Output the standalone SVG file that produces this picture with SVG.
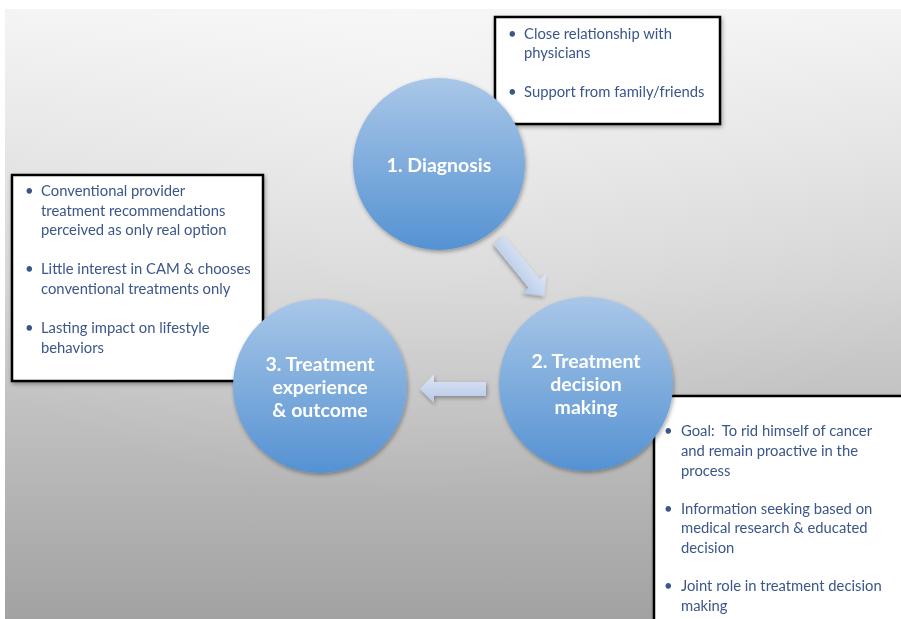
<svg xmlns="http://www.w3.org/2000/svg" width="901" height="619" viewBox="0 0 901 619">
<defs>
<linearGradient id="bg" x1="0" y1="0" x2="0" y2="1">
<stop offset="0" stop-color="#f3f3f3"/>
<stop offset="0.45" stop-color="#d3d3d3"/>
<stop offset="1" stop-color="#a2a2a2"/>
</linearGradient>
<radialGradient id="bgr" cx="0.45" cy="0.1" r="0.7">
<stop offset="0" stop-color="#ffffff" stop-opacity="0.35"/>
<stop offset="1" stop-color="#ffffff" stop-opacity="0"/>
</radialGradient>
<linearGradient id="circ" x1="0" y1="0" x2="0" y2="1">
<stop offset="0" stop-color="#a9c7e8"/>
<stop offset="1" stop-color="#5592d2"/>
</linearGradient>
<linearGradient id="arr" x1="0" y1="0" x2="0" y2="1">
<stop offset="0" stop-color="#dde6f5"/>
<stop offset="1" stop-color="#b6c9e8"/>
</linearGradient>
<filter id="sh" x="-20%" y="-20%" width="140%" height="140%">
<feGaussianBlur in="SourceAlpha" stdDeviation="2"/>
<feOffset dx="1" dy="2" result="b"/>
<feComponentTransfer><feFuncA type="linear" slope="0.35"/></feComponentTransfer>
<feMerge><feMergeNode/><feMergeNode in="SourceGraphic"/></feMerge>
</filter>
</defs>
<style>
.box{fill:#ffffff;stroke:#000000;stroke-width:2.5}
.bt{font-family:Lato,"Open Sans",sans-serif;font-size:14.8px;fill:#3b568a;white-space:pre}
.ct{font-family:Lato,"Open Sans",sans-serif;font-weight:bold;font-size:19.5px;fill:#ffffff;text-anchor:middle}
.circle{fill:url(#circ)}
.arrow{fill:url(#arr)}
</style>
<rect x="0" y="0" width="901" height="619" fill="#ffffff"/>
<rect x="5" y="9" width="896" height="610" fill="url(#bg)"/>
<rect x="5" y="9" width="896" height="610" fill="url(#bgr)"/>

<g id="box-diagnosis" filter="url(#sh)">
<rect class="box" x="495" y="17" width="225" height="107"/>
<text class="bt" x="508" y="39">•</text>
<text class="bt" x="524" y="39">Close relationship with</text>
<text class="bt" x="524" y="58">physicians</text>
<text class="bt" x="508" y="97">•</text>
<text class="bt" x="524" y="97">Support from family/friends</text>
</g>

<g id="box-outcome" filter="url(#sh)">
<rect class="box" x="12" y="175" width="251" height="206"/>
<text class="bt" x="25" y="196">•</text>
<text class="bt" x="41" y="196">Conventional provider</text>
<text class="bt" x="41" y="216">treatment recommendations</text>
<text class="bt" x="41" y="235">perceived as only real option</text>
<text class="bt" x="25" y="274">•</text>
<text class="bt" x="41" y="274">Little interest in CAM &amp; chooses</text>
<text class="bt" x="41" y="294">conventional treatments only</text>
<text class="bt" x="25" y="333">•</text>
<text class="bt" x="41" y="333">Lasting impact on lifestyle</text>
<text class="bt" x="41" y="353">behaviors</text>
</g>

<g id="box-decision" filter="url(#sh)">
<rect class="box" x="654" y="396" width="260" height="240"/>
<text class="bt" x="664" y="436">•</text>
<text class="bt" x="681" y="436" xml:space="preserve">Goal:  To rid himself of cancer</text>
<text class="bt" x="681" y="456">and remain proactive in the</text>
<text class="bt" x="681" y="476">process</text>
<text class="bt" x="664" y="514">•</text>
<text class="bt" x="681" y="514">Information seeking based on</text>
<text class="bt" x="681" y="533">medical research &amp; educated</text>
<text class="bt" x="681" y="553">decision</text>
<text class="bt" x="664" y="591">•</text>
<text class="bt" x="681" y="591">Joint role in treatment decision</text>
<text class="bt" x="681" y="611">making</text>
</g>

<g id="connectors">
<polygon class="arrow" filter="url(#sh)" transform="translate(499,240) rotate(51)" points="0,-7 56,-7 56,-15 72,0 56,15 56,7 0,7"/>
<polygon class="arrow" filter="url(#sh)" points="486,382 434,382 434,374 420,389 434,403 434,396 486,396"/>
</g>

<g id="node-diagnosis" filter="url(#sh)">
<circle class="circle" cx="439" cy="164" r="86"/>
<text class="ct" x="439" y="172">1. Diagnosis</text>
</g>

<g id="node-decision" filter="url(#sh)">
<circle class="circle" cx="586" cy="384" r="87"/>
<text class="ct" x="586" y="368">2. Treatment</text>
<text class="ct" x="586" y="391">decision</text>
<text class="ct" x="586" y="414">making</text>
</g>

<g id="node-outcome" filter="url(#sh)">
<circle class="circle" cx="320" cy="386" r="87"/>
<text class="ct" x="320" y="371">3. Treatment</text>
<text class="ct" x="320" y="394">experience</text>
<text class="ct" x="320" y="417">&amp; outcome</text>
</g>
</svg>
